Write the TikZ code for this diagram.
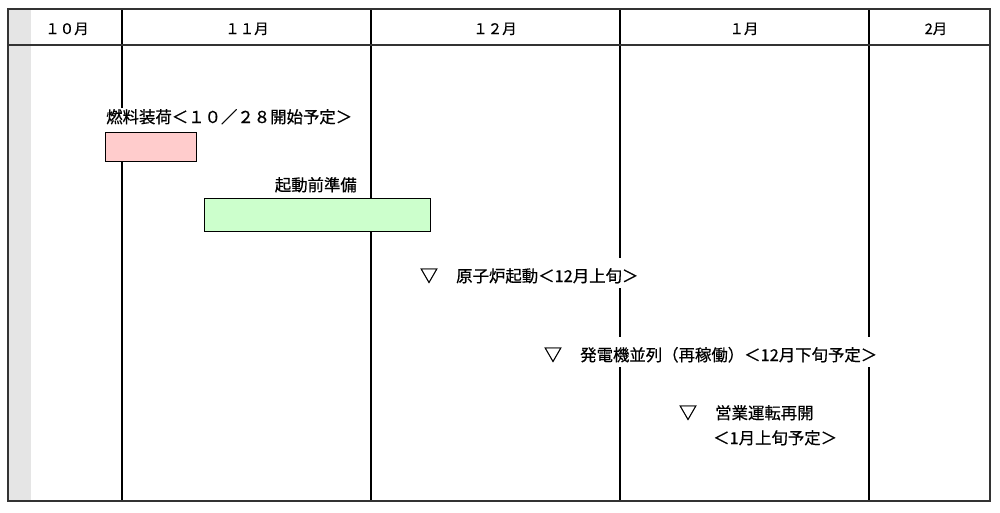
\documentclass[tikz,border=0pt]{standalone}
\usepackage{fontspec}
\setmainfont{Noto Sans CJK JP}[FakeBold=0.6]
\newfontfamily\trifont{Noto Sans CJK JP}[FakeBold=1.5]
\definecolor{stripgray}{HTML}{E5E5E5}
\definecolor{framegray}{HTML}{333333}
\definecolor{pinkfill}{HTML}{FFCCCC}
\definecolor{greenfill}{HTML}{CCFFCC}
\tikzset{
  hdr/.style={font=\fontsize{14.5pt}{16pt}\selectfont, inner sep=0pt, anchor=base},
  lab/.style={font=\fontsize{16.4pt}{18pt}\selectfont, inner xsep=1pt, inner ysep=0pt, anchor=base west},
  wlab/.style={lab, fill=white, text height=24pt, text depth=6pt},
  trimark/.style={font=\trifont\fontsize{18pt}{18pt}\selectfont, inner sep=0pt, anchor=base},
  gridline/.style={line width=1.2pt, black},
  barbox/.style={draw=black, line width=0.8pt},
}
\begin{document}
\begin{tikzpicture}[x=1pt,y=-1pt]
\useasboundingbox (0,0) rectangle (1000,512);
% grey strip
\fill[stripgray] (8,9) rectangle (31,501);
% month separators
\coordinate (t1) at (122,9);  \coordinate (b1) at (122,501);
\coordinate (t2) at (371,9);  \coordinate (b2) at (371,501);
\coordinate (t3) at (620,9);  \coordinate (b3) at (620,501);
\coordinate (t4) at (869,9);  \coordinate (b4) at (869,501);
\coordinate (hl) at (8,45);   \coordinate (hr) at (990,45);
\draw[gridline] (t1) -- (b1);
\draw[gridline] (t2) -- (b2);
\draw[gridline] (t3) -- (b3);
\draw[gridline] (t4) -- (b4);
\draw[gridline, framegray] (hl) -- (hr);
% outer frame
\draw[line width=1.5pt, framegray] (8,9) rectangle (990,501);
% header labels
\node[hdr] (m10) at (67,34) {１０月};
\node[hdr] (m11) at (247,34) {１１月};
\node[hdr] (m12) at (495,34) {１２月};
\node[hdr] (m1) at (744,34) {１月};
\node[hdr] (m2) at (936,34) {2月};
% fuel loading
\node[lab, fill=white, text height=15pt, text depth=9pt] (fuel) at (105,123) {燃料装荷＜１０／２８開始予定＞};
\node[barbox, fill=pinkfill, minimum width=91pt, minimum height=29pt, anchor=north west, inner sep=0pt] (fuelbar) at (105,132) {};
% startup preparation
\node[lab, anchor=base east] (prep) at (358,191) {起動前準備};
\node[barbox, fill=greenfill, minimum width=226pt, minimum height=33pt, anchor=north west, inner sep=0pt] (prepbar) at (204,198) {};
% milestones
\node[trimark] (tri1) at (429,282) {▽};
\node[wlab] (react) at (455,282) {原子炉起動＜12月上旬＞};
\node[trimark] (tri2) at (553,361) {▽};
\node[wlab] (gen) at (579,361) {発電機並列（再稼働）＜12月下旬予定＞};
\node[trimark] (tri3) at (688,419) {▽};
\node[lab] (op1) at (714,419) {営業運転再開};
\node[lab] (op2) at (712,444) {＜1月上旬予定＞};
\end{tikzpicture}
\end{document}
